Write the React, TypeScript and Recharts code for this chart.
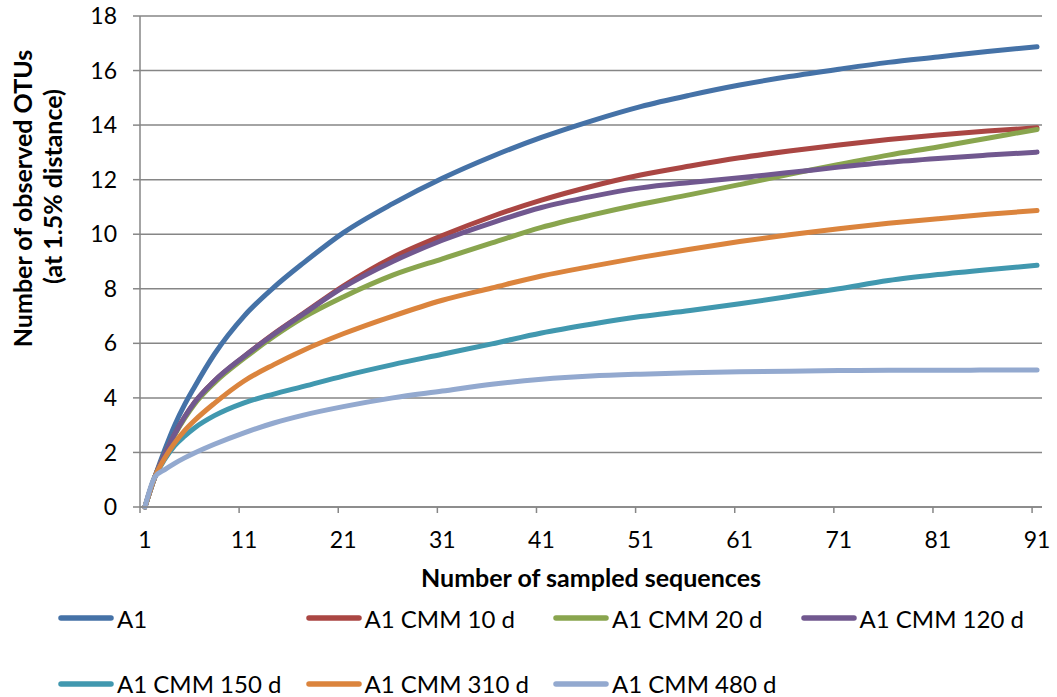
import React from 'react';
import { LineChart, Line, XAxis, YAxis, CartesianGrid, Legend } from 'recharts';

const sampleSizes = [1, 2, 3, 4, 5, 6, 8, 11, 14, 17, 21, 26, 31, 36, 41, 46, 51, 56, 61, 66, 71, 76, 81, 86, 91];

const a1 = [0, 1.1, 2.1, 3.0, 3.75, 4.4, 5.6, 7.0, 8.05, 8.95, 10.05, 11.12, 12.05, 12.85, 13.55, 14.15, 14.68, 15.1, 15.47, 15.78, 16.05, 16.3, 16.5, 16.7, 16.87];
const cmm10 = [0, 1.1, 1.93, 2.67, 3.3, 3.83, 4.62, 5.52, 6.35, 7.1, 8.1, 9.15, 9.95, 10.65, 11.25, 11.75, 12.17, 12.5, 12.8, 13.05, 13.27, 13.47, 13.64, 13.78, 13.9];
const cmm20 = [0, 1.1, 1.93, 2.65, 3.25, 3.77, 4.55, 5.45, 6.25, 6.95, 7.7, 8.5, 9.1, 9.68, 10.25, 10.7, 11.1, 11.45, 11.82, 12.2, 12.56, 12.9, 13.2, 13.52, 13.84];
const cmm120 = [0, 1.1, 1.93, 2.67, 3.3, 3.83, 4.62, 5.52, 6.33, 7.08, 8.05, 9.0, 9.78, 10.42, 10.98, 11.38, 11.7, 11.9, 12.07, 12.26, 12.46, 12.64, 12.78, 12.9, 13.01];
const cmm150 = [0, 1.1, 1.75, 2.25, 2.6, 2.9, 3.35, 3.82, 4.14, 4.42, 4.8, 5.22, 5.6, 5.98, 6.38, 6.7, 6.98, 7.2, 7.45, 7.72, 8.0, 8.3, 8.52, 8.7, 8.86];
const cmm310 = [0, 1.1, 1.8, 2.35, 2.8, 3.17, 3.8, 4.62, 5.22, 5.75, 6.35, 7.0, 7.58, 8.03, 8.47, 8.82, 9.15, 9.45, 9.73, 9.98, 10.2, 10.4, 10.57, 10.73, 10.87];
const cmm480 = [0, 1.1, 1.37, 1.6, 1.8, 1.98, 2.3, 2.72, 3.08, 3.37, 3.68, 4.0, 4.25, 4.5, 4.68, 4.8, 4.87, 4.92, 4.96, 4.98, 5.0, 5.01, 5.01, 5.02, 5.02];

const seriesNames = ['A1', 'A1 CMM 10 d', 'A1 CMM 20 d', 'A1 CMM 120 d', 'A1 CMM 150 d', 'A1 CMM 310 d', 'A1 CMM 480 d'];
const seriesValues = [a1, cmm10, cmm20, cmm120, cmm150, cmm310, cmm480];
const seriesColors = ['#4572A7', '#AA4643', '#89A54E', '#71588F', '#4198AF', '#DB843D', '#93A9CF'];

const xTickLabels = [1, 11, 21, 31, 41, 51, 61, 71, 81, 91];
const xTickBoundaries = [0.5, 10.5, 20.5, 30.5, 40.5, 50.5, 60.5, 70.5, 80.5, 90.5];
const yTicks = [0, 2, 4, 6, 8, 10, 12, 14, 16, 18];

const xTitle = 'Number of sampled sequences';
const yTitleLines = ['Number of observed OTUs', '(at 1.5% distance)'];

const FONT = 'Lato, "Open Sans", sans-serif';
const AXIS_COLOR = '#868686';

const chartData = sampleSizes.map((x, i) => {
  const row: Record<string, number> = { x };
  seriesValues.forEach((vals, s) => {
    row['s' + s] = vals[i];
  });
  return row;
});

const allXTicks = [...xTickBoundaries, ...xTickLabels].sort((a, b) => a - b);

const XTick = (props: any) => {
  const { x, y, payload } = props;
  const v = payload.value;
  if (v % 1 !== 0) {
    return <line x1={x} x2={x} y1={y} y2={y + 6} stroke={AXIS_COLOR} strokeWidth={1.5} />;
  }
  return (
    <text x={x} y={y + 41} textAnchor="middle" fill="#000" fontSize={23} fontFamily={FONT}>
      {v}
    </text>
  );
};

const XTitle = (props: any) => {
  const vb = props.viewBox;
  return (
    <text x={vb.x + vb.width / 2} y={vb.y + 80} textAnchor="middle" fill="#000" fontSize={25} fontWeight="bold" fontFamily={FONT}>
      {xTitle}
    </text>
  );
};

const YTitle = (props: any) => {
  const vb = props.viewBox;
  const c = vb.y + vb.height / 2;
  return (
    <g>
      <text transform="rotate(-90)" x={-(c - 63)} y={32} textAnchor="middle" fill="#000" fontSize={25} fontWeight="bold" fontFamily={FONT}>
        {yTitleLines[0]}
      </text>
      <text transform="rotate(-90)" x={-(c - 75)} y={62} textAnchor="middle" fill="#000" fontSize={25} fontWeight="bold" fontFamily={FONT}>
        {yTitleLines[1]}
      </text>
    </g>
  );
};

const LegendContent = () => (
  <div
    style={{
      display: 'grid',
      gridTemplateColumns: 'repeat(4, 247.5px)',
      rowGap: 25.6,
      paddingLeft: 58,
      paddingTop: 8,
      fontFamily: FONT,
      fontSize: 24,
      color: '#000',
    }}
  >
    {seriesNames.map((name, i) => (
      <div key={name} style={{ display: 'flex', alignItems: 'center', height: 40 }}>
        <svg width={56} height={10} style={{ display: 'block', flex: '0 0 auto' }}>
          <line x1={3} x2={53} y1={5} y2={5} stroke={seriesColors[i]} strokeWidth={5.5} strokeLinecap="round" />
        </svg>
        <span style={{ marginLeft: 3, whiteSpace: 'nowrap' }}>{name}</span>
      </div>
    ))}
  </div>
);

export default function App() {
  return (
    <div style={{ position: 'absolute', left: 0, top: 0, width: 1057, height: 697, background: '#fff' }}>
      <LineChart width={1057} height={697} data={chartData} margin={{ top: 16, right: 15, left: 0, bottom: 0 }}>
        <CartesianGrid vertical={false} stroke={AXIS_COLOR} strokeWidth={1.5} />
        <XAxis
          dataKey="x"
          type="number"
          domain={[0.5, 91.5]}
          ticks={allXTicks}
          interval={0}
          tickLine={false}
          tickSize={0}
          tickMargin={0}
          axisLine={{ stroke: AXIS_COLOR, strokeWidth: 1.5 }}
          tick={<XTick />}
          height={83}
          label={<XTitle />}
          allowDataOverflow
        />
        <YAxis
          type="number"
          domain={[0, 18]}
          ticks={yTicks}
          interval={0}
          width={140}
          tickSize={7}
          tickMargin={16}
          tickLine={{ stroke: AXIS_COLOR, strokeWidth: 1.5 }}
          axisLine={{ stroke: AXIS_COLOR, strokeWidth: 1.5 }}
          tick={{ fill: '#000', fontSize: 23, fontFamily: FONT }}
          label={<YTitle />}
        />
        <Legend
          content={<LegendContent />}
          wrapperStyle={{ position: 'absolute', left: 0, top: 590, bottom: 'auto', width: 1057, height: 107 }}
        />
        {seriesNames.map((name, i) => (
          <Line
            key={name}
            type="monotone"
            dataKey={'s' + i}
            name={name}
            stroke={seriesColors[i]}
            strokeWidth={5}
            strokeLinecap="round"
            strokeLinejoin="round"
            dot={false}
            activeDot={false}
            isAnimationActive={false}
          />
        ))}
      </LineChart>
    </div>
  );
}
